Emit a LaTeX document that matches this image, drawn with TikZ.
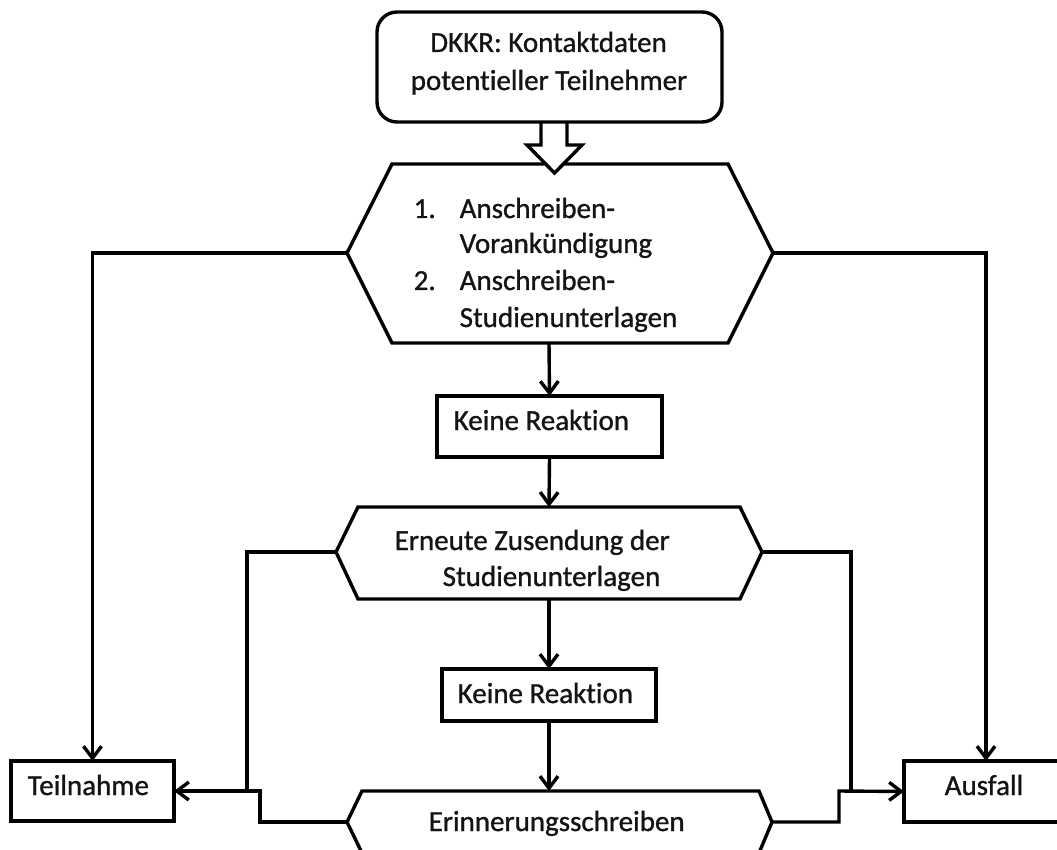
\documentclass[tikz,border=0pt]{standalone}
\usepackage{fontspec}
\setmainfont{Carlito}[FakeBold=1.0,RawFeature=-liga,RawFeature=-clig,RawFeature=-dlig,RawFeature=-calt]
\usetikzlibrary{arrows.meta}
\begin{document}
\begin{tikzpicture}[x=1pt,y=-1pt,line width=3.4pt,
  box/.style={draw,rectangle,fill=white,inner sep=0pt,outer sep=0pt},
  txt/.style={anchor=base west,inner sep=0pt,font=\fontsize{29}{35}\selectfont,text=black!92},
  ctxt/.style={txt,anchor=base},
  conn/.style={-{Straight Barb[length=12pt,width=18pt]},line join=miter},
  plain/.style={line join=miter},
  hexshape/.style={draw,fill=white,line join=miter}]
\useasboundingbox (0,0) rectangle (1057,850);
\clip (0,0) rectangle (1057,850);

% hexagon corner coordinates
\coordinate (h1L) at (347,253);
\coordinate (h1R) at (773,253);
\coordinate (h1T) at (549,164);
\coordinate (h1B) at (549,343);
\coordinate (h2L) at (336,552);
\coordinate (h2R) at (762,552);
\coordinate (h2T) at (549,507);
\coordinate (h2B) at (549,599);
\coordinate (h3L) at (347,822);
\coordinate (h3R) at (772,822);
\coordinate (h3T) at (549,791);

% hexagons
\path[hexshape] (392,164) -- (728,164) -- (h1R) -- (728,343) -- (392,343) -- (h1L) -- cycle;
\path[hexshape] (358,507) -- (740,507) -- (h2R) -- (740,599) -- (358,599) -- (h2L) -- cycle;
\path[hexshape] (362,791) -- (759,791) -- (h3R) -- (759,853) -- (362,853) -- (h3L) -- cycle;

% block arrow
\path[hexshape] (541,110) -- (541,145) -- (527,145) -- (554.5,173) -- (582,145) -- (567,145) -- (567,110) -- cycle;

% top box
\node[box,rounded corners=20pt,minimum width=345pt,minimum height=110pt] (src) at (549.5,67) {};
\node[ctxt] (srct1) at (548.5,52) {DKKR: Kontaktdaten};
\node[ctxt] (srct2) at (549,90) {potentieller Teilnehmer};

% hexagon texts
\node[txt] (n1) at (412,218) {1.};
\node[txt] (a1) at (458,218) {Anschreiben-};
\node[txt] (a2) at (458,253) {Vorankündigung};
\node[txt] (n2) at (412,290) {2.};
\node[txt] (a3) at (458,290) {Anschreiben-};
\node[txt] (a4) at (458,327) {Studienunterlagen};
\node[txt] (e1) at (393,550) {Erneute Zusendung der};
\node[txt] (e2) at (441,586) {Studienunterlagen};
\node[txt] (er) at (427,831) {Erinnerungsschreiben};

% boxes
\node[box,minimum width=225pt,minimum height=61pt] (kr1) at (549.5,426.5) {};
\node[txt] (kr1t) at (452,430) {Keine Reaktion};
\node[box,minimum width=214pt,minimum height=52pt] (kr2) at (549,695) {};
\node[txt] (kr2t) at (456,703) {Keine Reaktion};
\node[box,minimum width=163pt,minimum height=60pt] (teil) at (92.5,791) {};
\node[txt] (teilt) at (26,795) {Teilnahme};
\node[box,minimum width=164pt,minimum height=61pt] (aus) at (986,791.5) {};
\node[txt] (aust) at (943,795) {Ausfall};

% connectors
\draw[conn] (h1B) -- (kr1.north);
\draw[conn] (kr1.south) -- (h2T);
\draw[conn] (h2B) -- (kr2.north);
\draw[conn] (kr2.south) -- (h3T);

\draw[conn] (h1L) -| (teil.north);
\draw[conn] (h1R) -| (aus.north);

\coordinate (lj) at (247,791);
\coordinate (rj) at (851,791);
\draw[plain] (h2L) -| (lj);
\draw[plain] (h2R) -| (rj);
\draw[conn] (h3L) -- (260,822) -- (260,791) -- (teil.east);
\draw[conn] (h3R) -- (839,822) -- (839,791) -- (aus.west);
\end{tikzpicture}
\end{document}
